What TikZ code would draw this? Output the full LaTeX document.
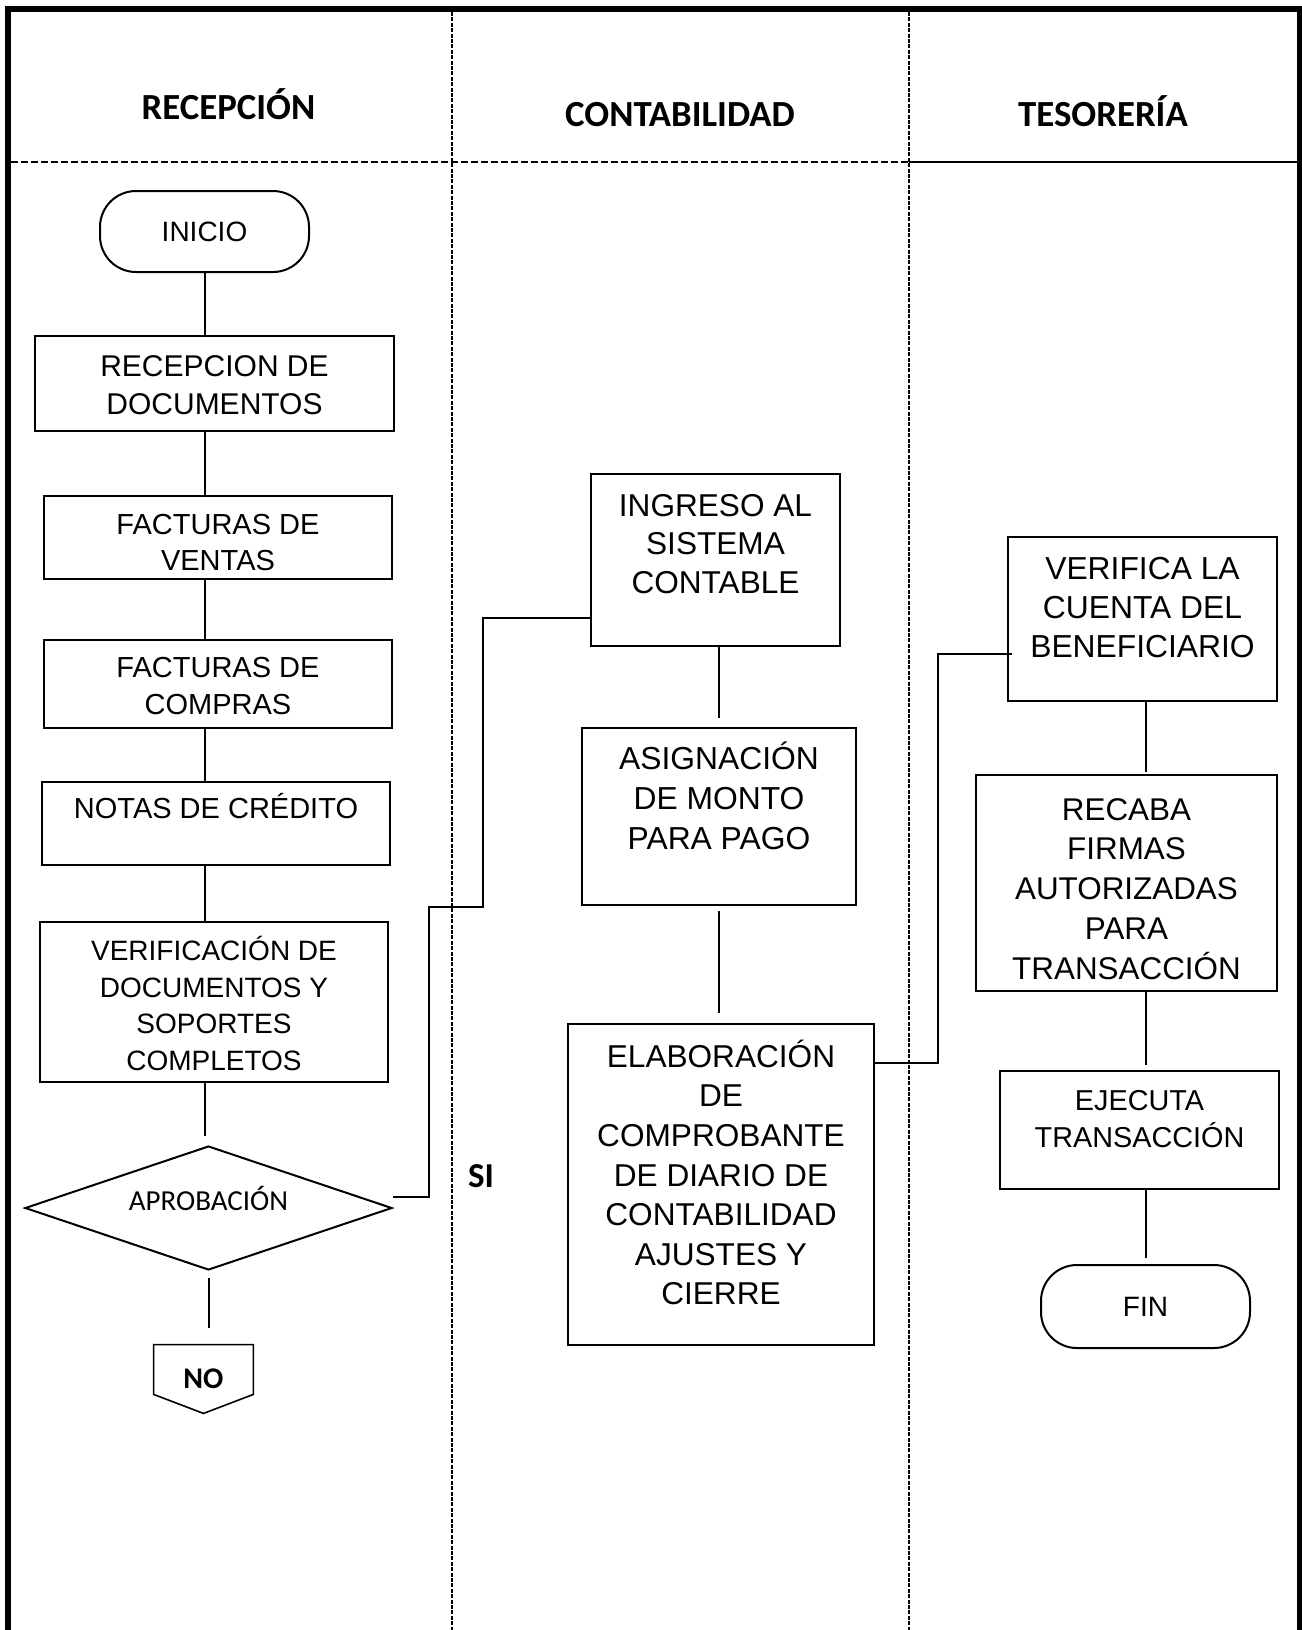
\documentclass[tikz,border=0pt]{standalone}
\usepackage{fontspec}
\setmainfont{Liberation Sans}
\newfontfamily\carl{Carlito}
\usetikzlibrary{shapes.geometric,calc}
\newlength\pxu
\setlength\pxu{0.5pt}
\newcommand\bt[4]{\parbox[c][#2\pxu][t]{#1\pxu}{\centering\vspace*{#3\pxu}\strut#4\par}}
\begin{document}
\begin{tikzpicture}[x=0.5pt,y=-0.5pt,
  box/.style={draw,line width=1pt,inner sep=0pt,fill=white},
  term/.style={draw,line width=1pt,rounded corners=18pt,inner sep=0pt,minimum width=104.5pt,font=\fontsize{14}{17}\selectfont},
  hdr/.style={anchor=base,inner sep=0pt,font=\carl\bfseries\fontsize{18.4}{22}\selectfont},
  conn/.style={line width=1pt},
  divider/.style={line width=1pt,dash pattern=on 2pt off 0.7pt},
  hdash/.style={line width=0.9pt,dash pattern=on 3.5pt off 1.5pt}]
\useasboundingbox (0,0) rectangle (1302,1630);
% frame and lanes
\draw[line width=3pt,line join=miter] (8,1630) -- (8,9) -- (1299.5,9) -- (1299.5,1630);
\draw[divider] (452,12) -- (452,1630);
\draw[divider] (909,12) -- (909,1630);
\draw[hdash] (11,162) -- (909,162);
\draw[line width=1pt] (909,162) -- (1297,162);
% headers
\node[hdr] (h1) at (228.5,119) {RECEPCIÓN};
\node[hdr] (h2) at (680,126) {CONTABILIDAD};
\node[hdr] (h3) at (1103,126) {TESORERÍA};
% lane 1
\node[term,minimum height=40.5pt] (ini) at (204.5,231.5) {INICIO};
\node[box,font=\fontsize{15}{19}\selectfont] (rec) at (214.5,383.5) {\bt{359}{95}{14.1}{RECEPCION DE\\DOCUMENTOS}};
\node[box,font=\fontsize{14.5}{18}\selectfont] (fv) at (218,537.5) {\bt{348}{83}{13.2}{FACTURAS DE\\VENTAS}};
\node[box,font=\fontsize{14.5}{18.5}\selectfont] (fc) at (218,684) {\bt{348}{88}{11.5}{FACTURAS DE\\COMPRAS}};
\node[box,font=\fontsize{14.5}{18}\selectfont] (nc) at (216,823.5) {\bt{348}{83}{11.2}{NOTAS DE CRÉDITO}};
\node[box,font=\fontsize{14}{18.2}\selectfont] (ver) at (214,1002) {\bt{348}{160}{13.5}{VERIFICACIÓN DE\\DOCUMENTOS Y\\SOPORTES\\COMPLETOS}};
\node[diamond,draw,line width=1pt,aspect=2.96,inner sep=0pt,minimum width=183.5pt,minimum height=62pt,text depth=9.5pt,font=\carl\fontsize{14.5}{17}\selectfont] (dia) at (208.5,1208) {APROBACIÓN};
\node[inner sep=0pt,minimum width=49.5pt,minimum height=34pt,font=\carl\bfseries\fontsize{15}{18}\selectfont] (no) at (203.5,1379) {NO};
\draw[line width=0.8pt] (no.north west) -- (no.north east) -- ([yshift=9.5pt]no.south east) -- (no.south) -- ([yshift=9.5pt]no.south west) -- cycle;
\node[anchor=base,inner sep=0pt,font=\carl\bfseries\fontsize{17.5}{20}\selectfont] (si) at (481,1187) {SI};
% lane 2
\node[box,font=\fontsize{15.8}{19.3}\selectfont] (ing) at (715.5,560) {\bt{249}{172}{15.3}{INGRESO AL\\SISTEMA\\CONTABLE}};
\node[box,font=\fontsize{15.9}{20}\selectfont] (asg) at (719,816.5) {\bt{274}{177}{13.4}{ASIGNACIÓN\\DE MONTO\\PARA PAGO}};
\node[box,font=\fontsize{15.8}{19.8}\selectfont] (ela) at (721,1184.5) {\bt{306}{321}{15.6}{ELABORACIÓN\\DE\\COMPROBANTE\\DE DIARIO DE\\CONTABILIDAD\\AJUSTES Y\\CIERRE}};
% lane 3
\node[box,font=\fontsize{15.9}{19.5}\selectfont] (vcb) at (1142.5,619) {\bt{269}{164}{15.1}{VERIFICA LA\\CUENTA DEL\\BENEFICIARIO}};
\node[box,font=\fontsize{15.7}{19.9}\selectfont] (rfa) at (1126.5,883) {\bt{301}{216}{17.3}{RECABA\\FIRMAS\\AUTORIZADAS\\PARA\\TRANSACCIÓN}};
\node[box,font=\fontsize{14.4}{18.5}\selectfont] (eje) at (1139.5,1130) {\bt{279}{118}{13.4}{EJECUTA\\TRANSACCIÓN}};
\node[term,minimum height=41.5pt] (fin) at (1145.5,1306.5) {FIN};
% connectors lane 1
\draw[conn] (ini.south) -- (rec.north -| ini.south);
\draw[conn] (rec.south -| ini.south) -- (fv.north -| ini.south);
\draw[conn] (fv.south -| ini.south) -- (fc.north -| ini.south);
\draw[conn] (fc.south -| ini.south) -- (nc.north -| ini.south);
\draw[conn] (nc.south -| ini.south) -- (ver.north -| ini.south);
\draw[conn,shorten >=4.5pt] (ver.south -| ini.south) -- (dia.north -| ini.south);
\draw[conn,shorten <=3.5pt,shorten >=8.5pt] (dia.south) -- (no.north -| dia.south);
% connectors lane 2
\draw[conn,shorten >=4.5pt] (ing.south -| asg.south) -- (asg.north);
\draw[conn,shorten <=2.5pt,shorten >=5pt] (asg.south) -- (ela.north -| asg.south);
% connectors lane 3
\draw[conn,shorten >=1pt] (vcb.south -| fin.north) -- (rfa.north -| fin.north);
\draw[conn,shorten >=2.5pt] (rfa.south -| fin.north) -- (eje.north -| fin.north);
\draw[conn,shorten >=3pt] (eje.south -| fin.north) -- (fin.north);
% cross-lane connectors
\coordinate (b1) at (429,907);
\coordinate (b2) at (483,618);
\draw[conn] ([yshift=5.5pt]dia.east) -| (b1) -| (b2) -- (ing.west |- b2);
\coordinate (c1) at (938,1063);
\coordinate (c2) at (938,654);
\coordinate (c3) at ([xshift=2.5pt]vcb.west);
\draw[conn] (ela.east |- c1) -- (c1) -- (c2) -- (c3 |- c2);
\end{tikzpicture}
\end{document}
